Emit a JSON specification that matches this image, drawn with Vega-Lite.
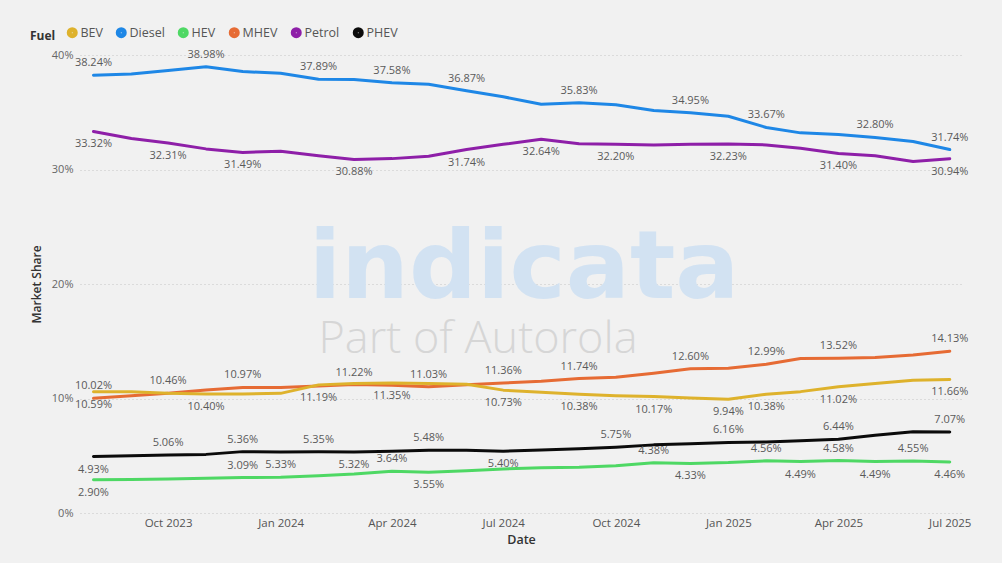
{
  "$schema": "https://vega.github.io/schema/vega-lite/v6.json",
  "width": 882,
  "height": 458,
  "autosize": {"type": "none"},
  "padding": {"left": 80, "top": 55, "right": 40, "bottom": 50},
  "background": "#f1f1f1",
  "config": {
    "font": "Open Sans",
    "view": {"stroke": null},
    "legend": {"padding": 0}
  },
  "datasets": {
    "shares": [
      {"date": "2023-08-01T00:00:00", "fuel": "Diesel", "share": 0.3824},
      {"date": "2023-09-01T00:00:00", "fuel": "Diesel", "share": 0.3835},
      {"date": "2023-10-01T00:00:00", "fuel": "Diesel", "share": 0.3865},
      {"date": "2023-11-01T00:00:00", "fuel": "Diesel", "share": 0.3898},
      {"date": "2023-12-01T00:00:00", "fuel": "Diesel", "share": 0.3855},
      {"date": "2024-01-01T00:00:00", "fuel": "Diesel", "share": 0.3840},
      {"date": "2024-02-01T00:00:00", "fuel": "Diesel", "share": 0.3789},
      {"date": "2024-03-01T00:00:00", "fuel": "Diesel", "share": 0.3785},
      {"date": "2024-04-01T00:00:00", "fuel": "Diesel", "share": 0.3758},
      {"date": "2024-05-01T00:00:00", "fuel": "Diesel", "share": 0.3745},
      {"date": "2024-06-01T00:00:00", "fuel": "Diesel", "share": 0.3687},
      {"date": "2024-07-01T00:00:00", "fuel": "Diesel", "share": 0.3635},
      {"date": "2024-08-01T00:00:00", "fuel": "Diesel", "share": 0.3570},
      {"date": "2024-09-01T00:00:00", "fuel": "Diesel", "share": 0.3583},
      {"date": "2024-10-01T00:00:00", "fuel": "Diesel", "share": 0.3565},
      {"date": "2024-11-01T00:00:00", "fuel": "Diesel", "share": 0.3515},
      {"date": "2024-12-01T00:00:00", "fuel": "Diesel", "share": 0.3495},
      {"date": "2025-01-01T00:00:00", "fuel": "Diesel", "share": 0.3465},
      {"date": "2025-02-01T00:00:00", "fuel": "Diesel", "share": 0.3367},
      {"date": "2025-03-01T00:00:00", "fuel": "Diesel", "share": 0.3320},
      {"date": "2025-04-01T00:00:00", "fuel": "Diesel", "share": 0.3305},
      {"date": "2025-05-01T00:00:00", "fuel": "Diesel", "share": 0.3280},
      {"date": "2025-06-01T00:00:00", "fuel": "Diesel", "share": 0.3245},
      {"date": "2025-07-01T00:00:00", "fuel": "Diesel", "share": 0.3174},

      {"date": "2023-08-01T00:00:00", "fuel": "Petrol", "share": 0.3332},
      {"date": "2023-09-01T00:00:00", "fuel": "Petrol", "share": 0.3270},
      {"date": "2023-10-01T00:00:00", "fuel": "Petrol", "share": 0.3231},
      {"date": "2023-11-01T00:00:00", "fuel": "Petrol", "share": 0.3180},
      {"date": "2023-12-01T00:00:00", "fuel": "Petrol", "share": 0.3149},
      {"date": "2024-01-01T00:00:00", "fuel": "Petrol", "share": 0.3160},
      {"date": "2024-02-01T00:00:00", "fuel": "Petrol", "share": 0.3120},
      {"date": "2024-03-01T00:00:00", "fuel": "Petrol", "share": 0.3088},
      {"date": "2024-04-01T00:00:00", "fuel": "Petrol", "share": 0.3095},
      {"date": "2024-05-01T00:00:00", "fuel": "Petrol", "share": 0.3115},
      {"date": "2024-06-01T00:00:00", "fuel": "Petrol", "share": 0.3174},
      {"date": "2024-07-01T00:00:00", "fuel": "Petrol", "share": 0.3220},
      {"date": "2024-08-01T00:00:00", "fuel": "Petrol", "share": 0.3264},
      {"date": "2024-09-01T00:00:00", "fuel": "Petrol", "share": 0.3225},
      {"date": "2024-10-01T00:00:00", "fuel": "Petrol", "share": 0.3220},
      {"date": "2024-11-01T00:00:00", "fuel": "Petrol", "share": 0.3215},
      {"date": "2024-12-01T00:00:00", "fuel": "Petrol", "share": 0.3220},
      {"date": "2025-01-01T00:00:00", "fuel": "Petrol", "share": 0.3223},
      {"date": "2025-02-01T00:00:00", "fuel": "Petrol", "share": 0.3215},
      {"date": "2025-03-01T00:00:00", "fuel": "Petrol", "share": 0.3185},
      {"date": "2025-04-01T00:00:00", "fuel": "Petrol", "share": 0.3140},
      {"date": "2025-05-01T00:00:00", "fuel": "Petrol", "share": 0.3120},
      {"date": "2025-06-01T00:00:00", "fuel": "Petrol", "share": 0.3070},
      {"date": "2025-07-01T00:00:00", "fuel": "Petrol", "share": 0.3094},

      {"date": "2023-08-01T00:00:00", "fuel": "MHEV", "share": 0.1002},
      {"date": "2023-09-01T00:00:00", "fuel": "MHEV", "share": 0.1025},
      {"date": "2023-10-01T00:00:00", "fuel": "MHEV", "share": 0.1046},
      {"date": "2023-11-01T00:00:00", "fuel": "MHEV", "share": 0.1075},
      {"date": "2023-12-01T00:00:00", "fuel": "MHEV", "share": 0.1097},
      {"date": "2024-01-01T00:00:00", "fuel": "MHEV", "share": 0.1095},
      {"date": "2024-02-01T00:00:00", "fuel": "MHEV", "share": 0.1110},
      {"date": "2024-03-01T00:00:00", "fuel": "MHEV", "share": 0.1122},
      {"date": "2024-04-01T00:00:00", "fuel": "MHEV", "share": 0.1115},
      {"date": "2024-05-01T00:00:00", "fuel": "MHEV", "share": 0.1103},
      {"date": "2024-06-01T00:00:00", "fuel": "MHEV", "share": 0.1120},
      {"date": "2024-07-01T00:00:00", "fuel": "MHEV", "share": 0.1136},
      {"date": "2024-08-01T00:00:00", "fuel": "MHEV", "share": 0.1150},
      {"date": "2024-09-01T00:00:00", "fuel": "MHEV", "share": 0.1174},
      {"date": "2024-10-01T00:00:00", "fuel": "MHEV", "share": 0.1185},
      {"date": "2024-11-01T00:00:00", "fuel": "MHEV", "share": 0.1220},
      {"date": "2024-12-01T00:00:00", "fuel": "MHEV", "share": 0.1260},
      {"date": "2025-01-01T00:00:00", "fuel": "MHEV", "share": 0.1265},
      {"date": "2025-02-01T00:00:00", "fuel": "MHEV", "share": 0.1299},
      {"date": "2025-03-01T00:00:00", "fuel": "MHEV", "share": 0.1350},
      {"date": "2025-04-01T00:00:00", "fuel": "MHEV", "share": 0.1352},
      {"date": "2025-05-01T00:00:00", "fuel": "MHEV", "share": 0.1358},
      {"date": "2025-06-01T00:00:00", "fuel": "MHEV", "share": 0.1380},
      {"date": "2025-07-01T00:00:00", "fuel": "MHEV", "share": 0.1413},

      {"date": "2023-08-01T00:00:00", "fuel": "BEV", "share": 0.1059},
      {"date": "2023-09-01T00:00:00", "fuel": "BEV", "share": 0.1060},
      {"date": "2023-10-01T00:00:00", "fuel": "BEV", "share": 0.1045},
      {"date": "2023-11-01T00:00:00", "fuel": "BEV", "share": 0.1040},
      {"date": "2023-12-01T00:00:00", "fuel": "BEV", "share": 0.1040},
      {"date": "2024-01-01T00:00:00", "fuel": "BEV", "share": 0.1045},
      {"date": "2024-02-01T00:00:00", "fuel": "BEV", "share": 0.1119},
      {"date": "2024-03-01T00:00:00", "fuel": "BEV", "share": 0.1130},
      {"date": "2024-04-01T00:00:00", "fuel": "BEV", "share": 0.1135},
      {"date": "2024-05-01T00:00:00", "fuel": "BEV", "share": 0.1130},
      {"date": "2024-06-01T00:00:00", "fuel": "BEV", "share": 0.1125},
      {"date": "2024-07-01T00:00:00", "fuel": "BEV", "share": 0.1073},
      {"date": "2024-08-01T00:00:00", "fuel": "BEV", "share": 0.1055},
      {"date": "2024-09-01T00:00:00", "fuel": "BEV", "share": 0.1038},
      {"date": "2024-10-01T00:00:00", "fuel": "BEV", "share": 0.1025},
      {"date": "2024-11-01T00:00:00", "fuel": "BEV", "share": 0.1017},
      {"date": "2024-12-01T00:00:00", "fuel": "BEV", "share": 0.1005},
      {"date": "2025-01-01T00:00:00", "fuel": "BEV", "share": 0.0994},
      {"date": "2025-02-01T00:00:00", "fuel": "BEV", "share": 0.1038},
      {"date": "2025-03-01T00:00:00", "fuel": "BEV", "share": 0.1060},
      {"date": "2025-04-01T00:00:00", "fuel": "BEV", "share": 0.1102},
      {"date": "2025-05-01T00:00:00", "fuel": "BEV", "share": 0.1130},
      {"date": "2025-06-01T00:00:00", "fuel": "BEV", "share": 0.1160},
      {"date": "2025-07-01T00:00:00", "fuel": "BEV", "share": 0.1166},

      {"date": "2023-08-01T00:00:00", "fuel": "PHEV", "share": 0.0493},
      {"date": "2023-09-01T00:00:00", "fuel": "PHEV", "share": 0.0500},
      {"date": "2023-10-01T00:00:00", "fuel": "PHEV", "share": 0.0506},
      {"date": "2023-11-01T00:00:00", "fuel": "PHEV", "share": 0.0512},
      {"date": "2023-12-01T00:00:00", "fuel": "PHEV", "share": 0.0536},
      {"date": "2024-01-01T00:00:00", "fuel": "PHEV", "share": 0.0533},
      {"date": "2024-02-01T00:00:00", "fuel": "PHEV", "share": 0.0535},
      {"date": "2024-03-01T00:00:00", "fuel": "PHEV", "share": 0.0532},
      {"date": "2024-04-01T00:00:00", "fuel": "PHEV", "share": 0.0540},
      {"date": "2024-05-01T00:00:00", "fuel": "PHEV", "share": 0.0548},
      {"date": "2024-06-01T00:00:00", "fuel": "PHEV", "share": 0.0547},
      {"date": "2024-07-01T00:00:00", "fuel": "PHEV", "share": 0.0540},
      {"date": "2024-08-01T00:00:00", "fuel": "PHEV", "share": 0.0550},
      {"date": "2024-09-01T00:00:00", "fuel": "PHEV", "share": 0.0562},
      {"date": "2024-10-01T00:00:00", "fuel": "PHEV", "share": 0.0575},
      {"date": "2024-11-01T00:00:00", "fuel": "PHEV", "share": 0.0595},
      {"date": "2024-12-01T00:00:00", "fuel": "PHEV", "share": 0.0605},
      {"date": "2025-01-01T00:00:00", "fuel": "PHEV", "share": 0.0616},
      {"date": "2025-02-01T00:00:00", "fuel": "PHEV", "share": 0.0620},
      {"date": "2025-03-01T00:00:00", "fuel": "PHEV", "share": 0.0630},
      {"date": "2025-04-01T00:00:00", "fuel": "PHEV", "share": 0.0644},
      {"date": "2025-05-01T00:00:00", "fuel": "PHEV", "share": 0.0680},
      {"date": "2025-06-01T00:00:00", "fuel": "PHEV", "share": 0.0710},
      {"date": "2025-07-01T00:00:00", "fuel": "PHEV", "share": 0.0707},

      {"date": "2023-08-01T00:00:00", "fuel": "HEV", "share": 0.0290},
      {"date": "2023-09-01T00:00:00", "fuel": "HEV", "share": 0.0293},
      {"date": "2023-10-01T00:00:00", "fuel": "HEV", "share": 0.0298},
      {"date": "2023-11-01T00:00:00", "fuel": "HEV", "share": 0.0303},
      {"date": "2023-12-01T00:00:00", "fuel": "HEV", "share": 0.0309},
      {"date": "2024-01-01T00:00:00", "fuel": "HEV", "share": 0.0313},
      {"date": "2024-02-01T00:00:00", "fuel": "HEV", "share": 0.0325},
      {"date": "2024-03-01T00:00:00", "fuel": "HEV", "share": 0.0340},
      {"date": "2024-04-01T00:00:00", "fuel": "HEV", "share": 0.0364},
      {"date": "2024-05-01T00:00:00", "fuel": "HEV", "share": 0.0355},
      {"date": "2024-06-01T00:00:00", "fuel": "HEV", "share": 0.0370},
      {"date": "2024-07-01T00:00:00", "fuel": "HEV", "share": 0.0385},
      {"date": "2024-08-01T00:00:00", "fuel": "HEV", "share": 0.0395},
      {"date": "2024-09-01T00:00:00", "fuel": "HEV", "share": 0.0400},
      {"date": "2024-10-01T00:00:00", "fuel": "HEV", "share": 0.0412},
      {"date": "2024-11-01T00:00:00", "fuel": "HEV", "share": 0.0438},
      {"date": "2024-12-01T00:00:00", "fuel": "HEV", "share": 0.0433},
      {"date": "2025-01-01T00:00:00", "fuel": "HEV", "share": 0.0440},
      {"date": "2025-02-01T00:00:00", "fuel": "HEV", "share": 0.0456},
      {"date": "2025-03-01T00:00:00", "fuel": "HEV", "share": 0.0449},
      {"date": "2025-04-01T00:00:00", "fuel": "HEV", "share": 0.0458},
      {"date": "2025-05-01T00:00:00", "fuel": "HEV", "share": 0.0449},
      {"date": "2025-06-01T00:00:00", "fuel": "HEV", "share": 0.0455},
      {"date": "2025-07-01T00:00:00", "fuel": "HEV", "share": 0.0446}
    ],
    "labelsAbove": [
      {"date": "2023-08-01T00:00:00", "fuel": "Diesel", "share": 0.3824},
      {"date": "2023-11-01T00:00:00", "fuel": "Diesel", "share": 0.3898},
      {"date": "2024-02-01T00:00:00", "fuel": "Diesel", "share": 0.3789},
      {"date": "2024-04-01T00:00:00", "fuel": "Diesel", "share": 0.3758},
      {"date": "2024-06-01T00:00:00", "fuel": "Diesel", "share": 0.3687},
      {"date": "2024-09-01T00:00:00", "fuel": "Diesel", "share": 0.3583},
      {"date": "2024-12-01T00:00:00", "fuel": "Diesel", "share": 0.3495},
      {"date": "2025-02-01T00:00:00", "fuel": "Diesel", "share": 0.3367},
      {"date": "2025-05-01T00:00:00", "fuel": "Diesel", "share": 0.3280},
      {"date": "2025-07-01T00:00:00", "fuel": "Diesel", "share": 0.3174},
      {"date": "2023-08-01T00:00:00", "fuel": "MHEV", "share": 0.1002},
      {"date": "2023-10-01T00:00:00", "fuel": "MHEV", "share": 0.1046},
      {"date": "2023-12-01T00:00:00", "fuel": "MHEV", "share": 0.1097},
      {"date": "2024-03-01T00:00:00", "fuel": "MHEV", "share": 0.1122},
      {"date": "2024-05-01T00:00:00", "fuel": "MHEV", "share": 0.1103},
      {"date": "2024-07-01T00:00:00", "fuel": "MHEV", "share": 0.1136},
      {"date": "2024-09-01T00:00:00", "fuel": "MHEV", "share": 0.1174},
      {"date": "2024-12-01T00:00:00", "fuel": "MHEV", "share": 0.1260},
      {"date": "2025-02-01T00:00:00", "fuel": "MHEV", "share": 0.1299},
      {"date": "2025-04-01T00:00:00", "fuel": "MHEV", "share": 0.1352},
      {"date": "2025-07-01T00:00:00", "fuel": "MHEV", "share": 0.1413},
      {"date": "2023-10-01T00:00:00", "fuel": "PHEV", "share": 0.0506},
      {"date": "2023-12-01T00:00:00", "fuel": "PHEV", "share": 0.0536},
      {"date": "2024-02-01T00:00:00", "fuel": "PHEV", "share": 0.0535},
      {"date": "2024-05-01T00:00:00", "fuel": "PHEV", "share": 0.0548},
      {"date": "2024-10-01T00:00:00", "fuel": "PHEV", "share": 0.0575},
      {"date": "2025-01-01T00:00:00", "fuel": "PHEV", "share": 0.0616},
      {"date": "2025-04-01T00:00:00", "fuel": "PHEV", "share": 0.0644},
      {"date": "2025-07-01T00:00:00", "fuel": "PHEV", "share": 0.0707},
      {"date": "2023-12-01T00:00:00", "fuel": "HEV", "share": 0.0309},
      {"date": "2024-04-01T00:00:00", "fuel": "HEV", "share": 0.0364},
      {"date": "2024-11-01T00:00:00", "fuel": "HEV", "share": 0.0438},
      {"date": "2025-02-01T00:00:00", "fuel": "HEV", "share": 0.0456},
      {"date": "2025-04-01T00:00:00", "fuel": "HEV", "share": 0.0458},
      {"date": "2025-06-01T00:00:00", "fuel": "HEV", "share": 0.0455}
    ],
    "labelsBelow": [
      {"date": "2023-08-01T00:00:00", "fuel": "Petrol", "share": 0.3332},
      {"date": "2023-10-01T00:00:00", "fuel": "Petrol", "share": 0.3231},
      {"date": "2023-12-01T00:00:00", "fuel": "Petrol", "share": 0.3149},
      {"date": "2024-03-01T00:00:00", "fuel": "Petrol", "share": 0.3088},
      {"date": "2024-06-01T00:00:00", "fuel": "Petrol", "share": 0.3174},
      {"date": "2024-08-01T00:00:00", "fuel": "Petrol", "share": 0.3264},
      {"date": "2024-10-01T00:00:00", "fuel": "Petrol", "share": 0.3220},
      {"date": "2025-01-01T00:00:00", "fuel": "Petrol", "share": 0.3223},
      {"date": "2025-04-01T00:00:00", "fuel": "Petrol", "share": 0.3140},
      {"date": "2025-07-01T00:00:00", "fuel": "Petrol", "share": 0.3094},
      {"date": "2023-08-01T00:00:00", "fuel": "BEV", "share": 0.1059},
      {"date": "2023-11-01T00:00:00", "fuel": "BEV", "share": 0.1040},
      {"date": "2024-02-01T00:00:00", "fuel": "BEV", "share": 0.1119},
      {"date": "2024-04-01T00:00:00", "fuel": "BEV", "share": 0.1135},
      {"date": "2024-07-01T00:00:00", "fuel": "BEV", "share": 0.1073},
      {"date": "2024-09-01T00:00:00", "fuel": "BEV", "share": 0.1038},
      {"date": "2024-11-01T00:00:00", "fuel": "BEV", "share": 0.1017},
      {"date": "2025-01-01T00:00:00", "fuel": "BEV", "share": 0.0994},
      {"date": "2025-02-01T00:00:00", "fuel": "BEV", "share": 0.1038},
      {"date": "2025-04-01T00:00:00", "fuel": "BEV", "share": 0.1102},
      {"date": "2025-07-01T00:00:00", "fuel": "BEV", "share": 0.1166},
      {"date": "2023-08-01T00:00:00", "fuel": "PHEV", "share": 0.0493},
      {"date": "2024-01-01T00:00:00", "fuel": "PHEV", "share": 0.0533},
      {"date": "2024-03-01T00:00:00", "fuel": "PHEV", "share": 0.0532},
      {"date": "2024-07-01T00:00:00", "fuel": "PHEV", "share": 0.0540},
      {"date": "2023-08-01T00:00:00", "fuel": "HEV", "share": 0.0290},
      {"date": "2024-05-01T00:00:00", "fuel": "HEV", "share": 0.0355},
      {"date": "2024-12-01T00:00:00", "fuel": "HEV", "share": 0.0433},
      {"date": "2025-03-01T00:00:00", "fuel": "HEV", "share": 0.0449},
      {"date": "2025-05-01T00:00:00", "fuel": "HEV", "share": 0.0449},
      {"date": "2025-07-01T00:00:00", "fuel": "HEV", "share": 0.0446}
    ],
    "watermark": [
      {"brand": "indicata", "tagline": "Part of Autorola"}
    ]
  },
  "layer": [
    {
      "data": {"name": "shares"},
      "mark": {"type": "line", "strokeWidth": 3, "strokeCap": "round", "strokeJoin": "round"},
      "encoding": {
        "x": {
          "field": "date",
          "type": "temporal",
          "title": "Date",
          "scale": {"domain": [{"year": 2023, "month": 7, "date": 21}, {"year": 2025, "month": 7, "date": 11}]},
          "axis": {
            "format": "%b %Y",
            "tickCount": {"interval": "month", "step": 3},
            "grid": false,
            "ticks": false,
            "domain": false,
            "labelPadding": 4,
            "labelFontSize": 11.5,
            "labelColor": "#555555",
            "labelFlush": false,
            "titleFontSize": 12.5,
            "titleFontWeight": 600,
            "titleColor": "#333333",
            "titlePadding": 5
          }
        },
        "y": {
          "field": "share",
          "type": "quantitative",
          "title": "Market Share",
          "scale": {"domain": [0, 0.4], "nice": false},
          "axis": {
            "format": ".0%",
            "values": [0, 0.1, 0.2, 0.3, 0.4],
            "grid": true,
            "gridDash": [1, 3],
            "gridColor": "#c4c4c4",
            "ticks": false,
            "domain": false,
            "labelPadding": 7,
            "labelFontSize": 11,
            "labelColor": "#666666",
            "titleFontSize": 12,
            "titleFontWeight": 600,
            "titleColor": "#333333",
            "titlePadding": 8
          }
        },
        "color": {
          "field": "fuel",
          "type": "nominal",
          "title": "Fuel",
          "scale": {
            "domain": ["BEV", "Diesel", "HEV", "MHEV", "Petrol", "PHEV"],
            "range": ["#DEB22C", "#1E87E6", "#4ED864", "#E66B34", "#8E1FA8", "#0B0B0B"]
          },
          "legend": {
            "orient": "none",
            "legendX": -50,
            "legendY": -29,
            "direction": "horizontal",
            "titleOrient": "left",
            "titleFontSize": 12,
            "titleFontWeight": "bold",
            "titleColor": "#333333",
            "titlePadding": 10,
            "labelFontSize": 12.5,
            "labelColor": "#555555",
            "labelOffset": 2,
            "symbolType": "circle",
            "symbolSize": 36,
            "symbolStrokeWidth": 5,
            "symbolOpacity": 1,
            "columnPadding": 5
          }
        }
      }
    },
    {
      "data": {"name": "watermark"},
      "mark": {"type": "text", "font": "DejaVu Sans", "fontWeight": "bold", "fontSize": 95, "align": "left", "baseline": "alphabetic", "color": "#d2e2f2"},
      "encoding": {
        "text": {"field": "brand", "type": "nominal"},
        "x": {"datum": {"year": 2024, "month": 1, "date": 24}, "type": "temporal"},
        "y": {"datum": 0.188, "type": "quantitative"}
      }
    },
    {
      "data": {"name": "watermark"},
      "mark": {"type": "text", "font": "Open Sans", "fontWeight": 300, "fontSize": 45, "align": "left", "baseline": "alphabetic", "color": "#d6d6d6"},
      "encoding": {
        "text": {"field": "tagline", "type": "nominal"},
        "x": {"datum": {"year": 2024, "month": 2, "date": 1}, "type": "temporal"},
        "y": {"datum": 0.1395, "type": "quantitative"}
      }
    },
    {
      "data": {"name": "labelsAbove"},
      "mark": {"type": "text", "dy": -12, "fontSize": 11, "color": "#5a5a5a", "baseline": "middle"},
      "encoding": {
        "x": {"field": "date", "type": "temporal"},
        "y": {"field": "share", "type": "quantitative"},
        "text": {"field": "share", "type": "quantitative", "format": ".2%"}
      }
    },
    {
      "data": {"name": "labelsBelow"},
      "mark": {"type": "text", "dy": 13, "fontSize": 11, "color": "#5a5a5a", "baseline": "middle"},
      "encoding": {
        "x": {"field": "date", "type": "temporal"},
        "y": {"field": "share", "type": "quantitative"},
        "text": {"field": "share", "type": "quantitative", "format": ".2%"}
      }
    }
  ]
}
